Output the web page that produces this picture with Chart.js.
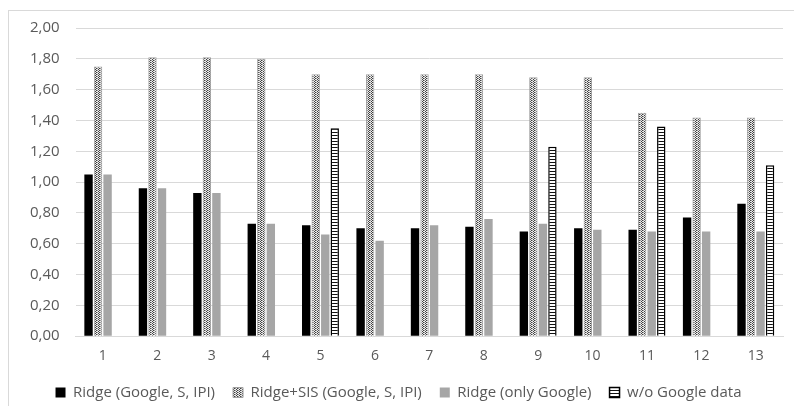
<!DOCTYPE html>
<html>
<head>
<meta charset="utf-8">
<script src="https://cdn.jsdelivr.net/npm/chart.js@4"></script>
<style>
	body { margin: 0; background: #fff; }
	#box { position: absolute; left: 8px; top: 10px; width: 800px; height: 410px; border: 1px solid #d9d9d9; box-sizing: border-box; }
	#wrap { position: absolute; left: 0; top: 0; width: 794px; height: 406px; }
</style>
</head>
<body>
<div id="box"></div>
<div id="wrap"><canvas id="chart"></canvas></div>
<script>
var categorie = ["1", "2", "3", "4", "5", "6", "7", "8", "9", "10", "11", "12", "13"];
var ridge = [1.05, 0.96, 0.93, 0.73, 0.72, 0.70, 0.70, 0.71, 0.68, 0.70, 0.69, 0.77, 0.86];
var ridgeSis = [1.75, 1.81, 1.81, 1.80, 1.70, 1.70, 1.70, 1.70, 1.68, 1.68, 1.45, 1.42, 1.42];
var soloGoogle = [1.05, 0.96, 0.93, 0.73, 0.66, 0.62, 0.72, 0.76, 0.73, 0.69, 0.68, 0.68, 0.68];
var senzaGoogle = [null, null, null, null, 1.35, null, null, null, 1.23, null, 1.36, null, 1.11];
var yTicks = [0, 0.2, 0.4, 0.6, 0.8, 1.0, 1.2, 1.4, 1.6, 1.8, 2.0];

// pattern puntinato per Ridge+SIS
function patternSis() {
	var c = document.createElement("canvas");
	c.width = 3;
	c.height = 2;
	var ctx = c.getContext("2d");
	ctx.fillStyle = "#ebebeb";
	ctx.fillRect(0, 0, 3, 2);
	ctx.fillStyle = "#404040";
	ctx.fillRect(0, 0, 1, 1);
	ctx.fillRect(2, 1, 1, 1);
	ctx.fillStyle = "#999999";
	ctx.fillRect(1, 0, 1, 1);
	return ctx.createPattern(c, "repeat");
}
// pattern a righe orizzontali per w/o Google
function patternRighe() {
	var c = document.createElement("canvas");
	c.width = 2;
	c.height = 3;
	var ctx = c.getContext("2d");
	ctx.fillStyle = "#ffffff";
	ctx.fillRect(0, 0, 2, 3);
	ctx.fillStyle = "#111111";
	ctx.fillRect(0, 0, 2, 1);
	return ctx.createPattern(c, "repeat");
}

var font = "'Open Sans', 'DejaVu Sans', sans-serif";

var grafico = new Chart(document.getElementById("chart"), {
	type: "bar",
	data: {
		labels: categorie,
		datasets: [
			{
				label: "Ridge (Google, S, IPI)",
				data: ridge,
				backgroundColor: "#000000",
				borderWidth: 0,
			},
			{
				label: "Ridge+SIS (Google, S, IPI)",
				data: ridgeSis,
				backgroundColor: patternSis(),
				borderColor: "#a0a0a0",
				borderWidth: 1,
			},
			{
				label: "Ridge (only Google)",
				data: soloGoogle,
				backgroundColor: "#a6a6a6",
				borderWidth: 0,
			},
			{
				label: "w/o Google data",
				data: senzaGoogle,
				backgroundColor: patternRighe(),
				borderColor: "#000000",
				borderWidth: 1.5,
			},
		],
	},
	options: {
		responsive: true,
		maintainAspectRatio: false,
		animation: false,
		layout: { padding: { left: 14, right: 11, top: 28, bottom: -4 } },
		datasets: { bar: { categoryPercentage: 0.7, barPercentage: 0.88 } },
		plugins: {
			tooltip: { enabled: false },
			legend: {
				position: "bottom",
				labels: {
					boxWidth: 10,
					boxHeight: 10,
					padding: 18,
					color: "#595959",
					font: { family: font, size: 15 },
				},
			},
		},
		scales: {
			x: {
				grid: { display: false },
				border: { color: "#d9d9d9", width: 1 },
				ticks: { color: "#595959", font: { family: font, size: 14 }, padding: 3 },
			},
			y: {
				min: 0,
				max: 2,
				afterBuildTicks: function (scale) {
					scale.ticks = yTicks.map(function (v) { return { value: v }; });
				},
				grid: { color: "#d9d9d9", lineWidth: 1, drawTicks: false },
				border: { display: false },
				ticks: {
					color: "#595959",
					font: { family: font, size: 15 },
					padding: 16,
					callback: function (v) { return v.toFixed(2).replace(".", ","); },
				},
			},
		},
	},
});
</script>
</body>
</html>
